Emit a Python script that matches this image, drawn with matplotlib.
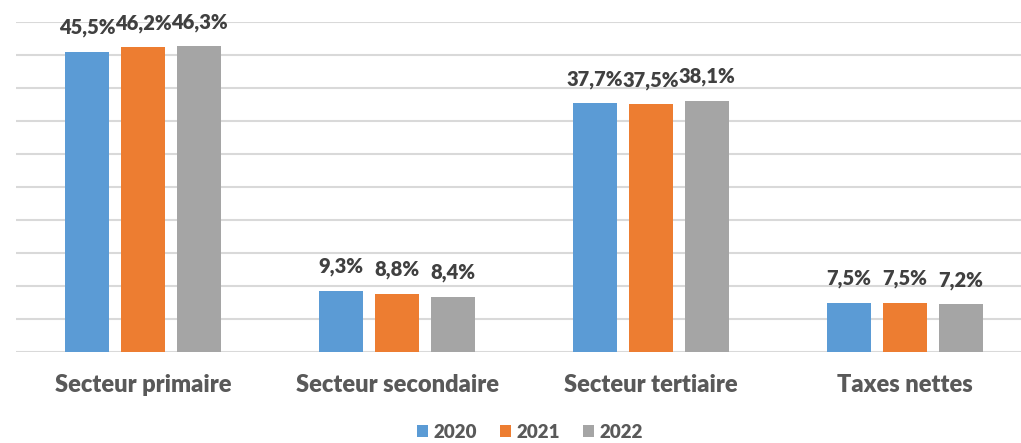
import numpy as np
import matplotlib.pyplot as plt

plt.rcParams['font.family'] = ['Lato', 'DejaVu Sans']

categories = ['Secteur primaire', 'Secteur secondaire', 'Secteur tertiaire', 'Taxes nettes']
years = ['2020', '2021', '2022']
v2020 = [45.5, 9.3, 37.7, 7.5]
v2021 = [46.2, 8.8, 37.5, 7.5]
v2022 = [46.3, 8.4, 38.1, 7.2]
colors = ['#5B9BD5', '#ED7D31', '#A5A5A5']

fig = plt.figure(figsize=(10.21, 4.43), dpi=100)
ax = fig.add_axes([16 / 1021, 91 / 443, 1016 / 1021, 330 / 443])

x = np.arange(len(categories))
w = 0.173
step = 0.22
for i, (vals, yr) in enumerate(zip([v2020, v2021, v2022], years)):
    pos = x + (i - 1) * step
    ax.bar(pos, vals, width=w, color=colors[i], label=yr, zorder=3)
    for p, v in zip(pos, vals):
        ax.text(p, v + 2.2, ('%.1f%%' % v).replace('.', ','), ha='center', va='bottom',
                fontsize=14.5, fontweight='heavy', color='#404040')

ax.set_xlim(-0.5, 3.5)
ax.set_ylim(0, 50)
ax.set_yticks(np.arange(0, 51, 5))
ax.yaxis.grid(True, color='#D9D9D9', linewidth=1.5, zorder=0)
ax.tick_params(left=False, labelleft=False, bottom=False)
ax.set_xticks(x)
ax.set_xticklabels(categories, fontsize=17, fontweight='heavy', color='#595959')
ax.tick_params(axis='x', pad=12)
for s in ax.spines.values():
    s.set_visible(False)

fig.legend(loc='center', bbox_to_anchor=(530 / 1021, 11 / 443), ncol=3, frameon=False,
           prop={'size': 13.5, 'weight': 'heavy'}, labelcolor='#595959',
           handlelength=0.6, handleheight=0.6, handletextpad=0.3, columnspacing=1.2,
           borderpad=0.1)

fig.savefig('out.png', dpi=100)
